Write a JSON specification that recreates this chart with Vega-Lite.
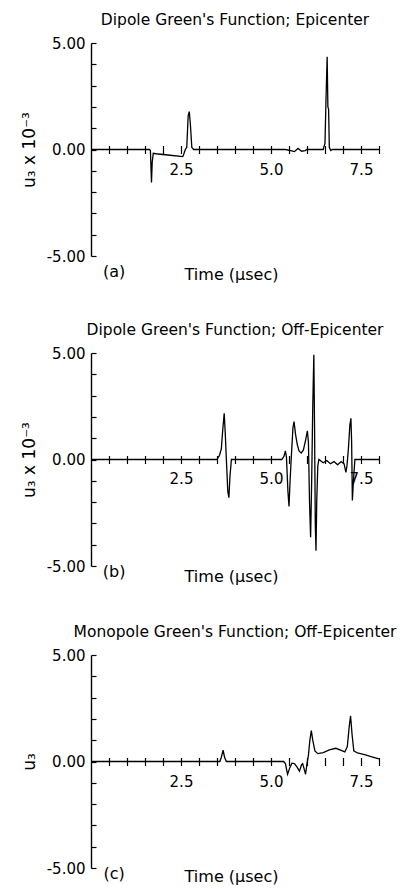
{
  "$schema": "https://vega.github.io/schema/vega-lite/v6.json",
  "background": "white",
  "padding": {"left": 20, "top": 12, "right": 4, "bottom": 2},
  "spacing": 39,
  "config": {
    "font": "DejaVu Sans",
    "view": {"stroke": null},
    "title": {"fontSize": 15.5, "fontWeight": "normal", "color": "black", "anchor": "middle", "offset": 8},
    "axis": {
      "labelFont": "DejaVu Sans",
      "titleFont": "DejaVu Sans",
      "labelFontSize": 15,
      "titleFontSize": 16,
      "titleFontWeight": "normal",
      "labelColor": "black",
      "titleColor": "black",
      "tickColor": "black",
      "domainColor": "black",
      "grid": false,
      "labelOverlap": false,
      "labelFlush": false
    },
    "text": {"font": "DejaVu Sans", "fontSize": 16, "color": "black"}
  },
  "datasets": {
    "epicenter": [
      {"t": 0, "u": 0}, {"t": 1.62, "u": 0}, {"t": 1.65, "u": -0.05}, {"t": 1.68, "u": -1.55},
      {"t": 1.7, "u": -0.6}, {"t": 1.73, "u": -0.18}, {"t": 1.8, "u": -0.2}, {"t": 2.2, "u": -0.27},
      {"t": 2.55, "u": -0.33}, {"t": 2.58, "u": -0.2}, {"t": 2.62, "u": 0}, {"t": 2.66, "u": 0.1},
      {"t": 2.7, "u": 1.6}, {"t": 2.73, "u": 1.78}, {"t": 2.76, "u": 1.2}, {"t": 2.8, "u": 0.1},
      {"t": 2.85, "u": 0}, {"t": 5.4, "u": 0}, {"t": 5.55, "u": -0.05}, {"t": 5.65, "u": -0.1},
      {"t": 5.75, "u": 0.05}, {"t": 5.85, "u": -0.08}, {"t": 5.95, "u": -0.05}, {"t": 6.0, "u": 0},
      {"t": 6.45, "u": 0}, {"t": 6.5, "u": 0.3}, {"t": 6.53, "u": 2.5}, {"t": 6.56, "u": 4.35},
      {"t": 6.58, "u": 2.0}, {"t": 6.6, "u": 1.9}, {"t": 6.62, "u": 0.1}, {"t": 6.66, "u": -0.05},
      {"t": 6.7, "u": 0}, {"t": 8.0, "u": 0}
    ],
    "dipoleOff": [
      {"t": 0, "u": 0}, {"t": 3.5, "u": 0}, {"t": 3.57, "u": 0.2}, {"t": 3.62, "u": 0.5},
      {"t": 3.66, "u": 1.4}, {"t": 3.7, "u": 2.17}, {"t": 3.73, "u": 1.2}, {"t": 3.76, "u": 0},
      {"t": 3.8, "u": -1.5}, {"t": 3.83, "u": -1.79}, {"t": 3.86, "u": -0.8}, {"t": 3.9, "u": 0},
      {"t": 5.3, "u": 0}, {"t": 5.36, "u": 0.15}, {"t": 5.4, "u": 0.4}, {"t": 5.43, "u": 0.1},
      {"t": 5.47, "u": -1.5}, {"t": 5.5, "u": -2.2}, {"t": 5.53, "u": -1.0}, {"t": 5.57, "u": 0.3},
      {"t": 5.61, "u": 1.5}, {"t": 5.64, "u": 1.78}, {"t": 5.68, "u": 1.2}, {"t": 5.73, "u": 0.7},
      {"t": 5.78, "u": 0.4}, {"t": 5.84, "u": 0.3}, {"t": 5.9, "u": 0.45}, {"t": 5.96, "u": 0.9},
      {"t": 6.01, "u": 1.35}, {"t": 6.04, "u": 0.8}, {"t": 6.07, "u": -2.0}, {"t": 6.1, "u": -3.65},
      {"t": 6.13, "u": -1.0}, {"t": 6.16, "u": 2.5}, {"t": 6.19, "u": 4.92}, {"t": 6.21, "u": 1.5},
      {"t": 6.23, "u": -3.0}, {"t": 6.25, "u": -4.28}, {"t": 6.27, "u": -2.0}, {"t": 6.3, "u": -0.3},
      {"t": 6.33, "u": 0}, {"t": 6.45, "u": -0.15}, {"t": 6.55, "u": -0.05}, {"t": 6.65, "u": -0.2},
      {"t": 6.75, "u": -0.1}, {"t": 6.85, "u": -0.25}, {"t": 6.95, "u": -0.1}, {"t": 7.03, "u": -0.2},
      {"t": 7.08, "u": -0.6}, {"t": 7.11, "u": -0.3}, {"t": 7.15, "u": 0.5}, {"t": 7.19, "u": 1.6},
      {"t": 7.22, "u": 1.93}, {"t": 7.24, "u": 0.8}, {"t": 7.26, "u": -1.92}, {"t": 7.29, "u": -1.0},
      {"t": 7.33, "u": 0}, {"t": 8.0, "u": 0}
    ],
    "monopoleOff": [
      {"t": 0, "u": 0}, {"t": 3.58, "u": 0}, {"t": 3.62, "u": 0.2}, {"t": 3.67, "u": 0.53},
      {"t": 3.71, "u": 0.2}, {"t": 3.76, "u": 0}, {"t": 5.35, "u": 0}, {"t": 5.4, "u": -0.1},
      {"t": 5.46, "u": -0.6}, {"t": 5.52, "u": -0.3}, {"t": 5.58, "u": -0.08}, {"t": 5.65, "u": -0.1},
      {"t": 5.72, "u": -0.25}, {"t": 5.79, "u": -0.45}, {"t": 5.85, "u": -0.15}, {"t": 5.88, "u": -0.1},
      {"t": 5.92, "u": -0.35}, {"t": 5.96, "u": -0.6}, {"t": 6.0, "u": -0.1}, {"t": 6.04, "u": 0.3},
      {"t": 6.08, "u": 1.0}, {"t": 6.12, "u": 1.45}, {"t": 6.16, "u": 1.0}, {"t": 6.22, "u": 0.5},
      {"t": 6.3, "u": 0.37}, {"t": 6.45, "u": 0.42}, {"t": 6.62, "u": 0.55}, {"t": 6.8, "u": 0.62},
      {"t": 6.95, "u": 0.52}, {"t": 7.05, "u": 0.45}, {"t": 7.12, "u": 0.7}, {"t": 7.17, "u": 1.6},
      {"t": 7.21, "u": 2.15}, {"t": 7.25, "u": 1.3}, {"t": 7.3, "u": 0.5}, {"t": 7.4, "u": 0.4},
      {"t": 7.6, "u": 0.32}, {"t": 7.8, "u": 0.22}, {"t": 8.0, "u": 0.12}
    ]
  },
  "vconcat": [
    {
      "width": 288,
      "height": 213,
      "title": "Dipole Green's Function; Epicenter",
      "layer": [
        {
          "mark": {"type": "rule", "color": "black", "strokeWidth": 1.3},
          "encoding": {"y": {"datum": 0, "type": "quantitative", "scale": {"domain": [-5, 5], "nice": false}}}
        },
        {
          "data": {"name": "epicenter"},
          "mark": {"type": "line", "color": "black", "strokeWidth": 1.3},
          "encoding": {
            "x": {
              "field": "t", "type": "quantitative",
              "scale": {"domain": [0, 8], "nice": false, "zero": false},
              "axis": {
                "title": "Time (μsec)", "orient": "bottom", "offset": -110.5, "domain": false,
                "values": [0.5, 1, 1.5, 2, 2.5, 3, 3.5, 4, 4.5, 5, 5.5, 6, 6.5, 7, 7.5, 8],
                "tickCount": 40,
                "tickSize": 8, "tickWidth": 1.2, "labelPadding": 9, "labelOverlap": false, "labelFlush": false,
                "labelExpr": "datum.value == 2.5 || datum.value == 5 || datum.value == 7.5 ? format(datum.value, '.1f') : ''",
                "titleX": 140, "titleY": 121, "titleBaseline": "top"
              }
            },
            "y": {
              "field": "u", "type": "quantitative",
              "scale": {"domain": [-5, 5], "nice": false},
              "axis": {
                "title": "u₃ x 10⁻³", "titleFontSize": 17,
                "values": [-5, -4, -3, -2, -1, 0, 1, 2, 3, 4, 5],
                "tickCount": 40,
                "tickSize": -5, "tickWidth": 1.2, "domainWidth": 1.4, "labelPadding": 11, "titlePadding": 8,
                "labelOverlap": false,
                "labelExpr": "datum.value == 5 ? '5.00' : datum.value == 0 ? '0.00' : datum.value == -5 ? '-5.00' : ''"
              }
            }
          }
        },
        {
          "data": {"values": [{"t": 0.64, "u": -5.75, "label": "(a)"}]},
          "mark": {"type": "text", "baseline": "middle", "align": "center"},
          "encoding": {
            "x": {"field": "t", "type": "quantitative"},
            "y": {"field": "u", "type": "quantitative"},
            "text": {"field": "label"}
          }
        }
      ]
    },
    {
      "width": 288,
      "height": 213,
      "title": "Dipole Green's Function; Off-Epicenter",
      "layer": [
        {
          "mark": {"type": "rule", "color": "black", "strokeWidth": 1.3},
          "encoding": {"y": {"datum": 0, "type": "quantitative", "scale": {"domain": [-5, 5], "nice": false}}}
        },
        {
          "data": {"name": "dipoleOff"},
          "mark": {"type": "line", "color": "black", "strokeWidth": 1.3},
          "encoding": {
            "x": {
              "field": "t", "type": "quantitative",
              "scale": {"domain": [0, 8], "nice": false, "zero": false},
              "axis": {
                "title": "Time (μsec)", "orient": "bottom", "offset": -110.5, "domain": false,
                "values": [0.5, 1, 1.5, 2, 2.5, 3, 3.5, 4, 4.5, 5, 5.5, 6, 6.5, 7, 7.5, 8],
                "tickCount": 40,
                "tickSize": 8, "tickWidth": 1.2, "labelPadding": 8, "labelOverlap": false, "labelFlush": false,
                "labelExpr": "datum.value == 2.5 || datum.value == 5 || datum.value == 7.5 ? format(datum.value, '.1f') : ''",
                "titleX": 140, "titleY": 113, "titleBaseline": "top"
              }
            },
            "y": {
              "field": "u", "type": "quantitative",
              "scale": {"domain": [-5, 5], "nice": false},
              "axis": {
                "title": "u₃ x 10⁻³", "titleFontSize": 17,
                "values": [-5, -4, -3, -2, -1, 0, 1, 2, 3, 4, 5],
                "tickCount": 40,
                "tickSize": -5, "tickWidth": 1.2, "domainWidth": 1.4, "labelPadding": 11, "titlePadding": 8,
                "labelOverlap": false,
                "labelExpr": "datum.value == 5 ? '5.00' : datum.value == 0 ? '0.00' : datum.value == -5 ? '-5.00' : ''"
              }
            }
          }
        },
        {
          "data": {"values": [{"t": 0.64, "u": -5.3, "label": "(b)"}]},
          "mark": {"type": "text", "baseline": "middle", "align": "center"},
          "encoding": {
            "x": {"field": "t", "type": "quantitative"},
            "y": {"field": "u", "type": "quantitative"},
            "text": {"field": "label"}
          }
        }
      ]
    },
    {
      "width": 288,
      "height": 213,
      "title": "Monopole Green's Function; Off-Epicenter",
      "layer": [
        {
          "mark": {"type": "rule", "color": "black", "strokeWidth": 1.3},
          "encoding": {"y": {"datum": 0, "type": "quantitative", "scale": {"domain": [-5, 5], "nice": false}}}
        },
        {
          "data": {"name": "monopoleOff"},
          "mark": {"type": "line", "color": "black", "strokeWidth": 1.3},
          "encoding": {
            "x": {
              "field": "t", "type": "quantitative",
              "scale": {"domain": [0, 8], "nice": false, "zero": false},
              "axis": {
                "title": "Time (μsec)", "orient": "bottom", "offset": -110.5, "domain": false,
                "values": [0.5, 1, 1.5, 2, 2.5, 3, 3.5, 4, 4.5, 5, 5.5, 6, 6.5, 7, 7.5, 8],
                "tickCount": 40,
                "tickSize": 8, "tickWidth": 1.2, "labelPadding": 9, "labelOverlap": false, "labelFlush": false,
                "labelExpr": "datum.value == 2.5 || datum.value == 5 || datum.value == 7.5 ? format(datum.value, '.1f') : ''",
                "titleX": 140, "titleY": 111, "titleBaseline": "top"
              }
            },
            "y": {
              "field": "u", "type": "quantitative",
              "scale": {"domain": [-5, 5], "nice": false},
              "axis": {
                "title": "u₃", "titleFontSize": 17,
                "values": [-5, -4, -3, -2, -1, 0, 1, 2, 3, 4, 5],
                "tickCount": 40,
                "tickSize": -5, "tickWidth": 1.2, "domainWidth": 1.4, "labelPadding": 11, "titlePadding": 8,
                "labelOverlap": false,
                "labelExpr": "datum.value == 5 ? '5.00' : datum.value == 0 ? '0.00' : datum.value == -5 ? '-5.00' : ''"
              }
            }
          }
        },
        {
          "data": {"values": [{"t": 0.64, "u": -5.3, "label": "(c)"}]},
          "mark": {"type": "text", "baseline": "middle", "align": "center"},
          "encoding": {
            "x": {"field": "t", "type": "quantitative"},
            "y": {"field": "u", "type": "quantitative"},
            "text": {"field": "label"}
          }
        }
      ]
    }
  ]
}
